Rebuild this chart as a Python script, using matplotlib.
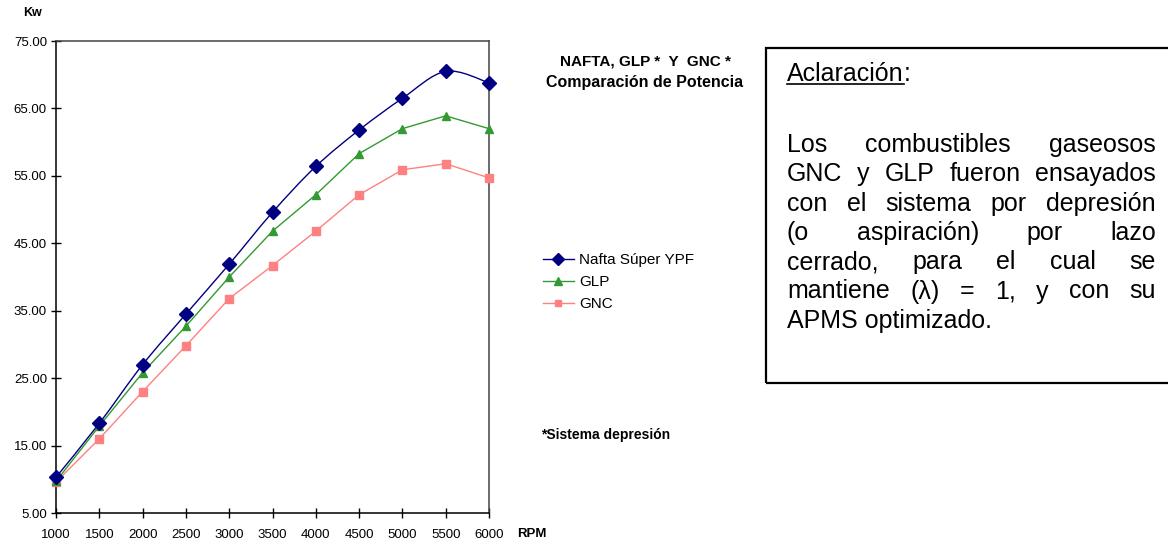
import matplotlib
matplotlib.use("Agg")
import matplotlib.pyplot as plt
from matplotlib.path import Path
from matplotlib.patches import PathPatch, Rectangle
from matplotlib.lines import Line2D
import numpy as np

plt.rcParams['font.family'] = ['Liberation Sans', 'DejaVu Sans']

rpm = [1000, 1500, 2000, 2500, 3000, 3500, 4000, 4500, 5000, 5500, 6000]
nafta = [10.3, 18.3, 27.0, 34.5, 41.9, 49.6, 56.4, 61.8, 66.5, 70.5, 68.8]
glp = [9.7, 17.9, 25.8, 32.7, 40.0, 46.8, 52.2, 58.3, 62.0, 63.9, 62.0]
gnc = [9.6, 16.0, 23.0, 29.8, 36.8, 41.7, 46.8, 52.2, 55.9, 56.8, 54.7]
series_names = ['Nafta Súper YPF', 'GLP', 'GNC']
yticks = [5, 15, 25, 35, 45, 55, 65, 75]

W, H = 1168, 544
fig = plt.figure(figsize=(W / 100, H / 100), dpi=100)


def fx(x):
    return x / W


def fy(y):
    return 1 - y / H


ax = fig.add_axes([fx(56), fy(513), fx(489) - fx(56), fy(41) - fy(513)])
ax.set_xlim(1000, 6000)
ax.set_ylim(5, 75)
ax.set_xticks(rpm)
ax.set_xticklabels([str(v) for v in rpm])
ax.set_yticks(yticks)
ax.set_yticklabels([f"{v:.2f}" for v in yticks])
ax.tick_params(axis='both', direction='inout', length=7, width=1, labelsize=9.5,
               colors='black', pad=3)
ax.tick_params(axis='x', pad=8)
for s in ax.spines.values():
    s.set_color('#000000')
    s.set_linewidth(1.1)
for s in ['top', 'right']:
    ax.spines[s].set_color('#444444')


def smooth_path(xs, ys):
    xs = np.asarray(xs, float)
    ys = np.asarray(ys, float)
    pts = np.column_stack([xs, ys])
    verts = [pts[0]]
    codes = [Path.MOVETO]
    n = len(pts)
    for i in range(n - 1):
        p0 = pts[i - 1] if i > 0 else pts[i]
        p1 = pts[i]
        p2 = pts[i + 1]
        p3 = pts[i + 2] if i + 2 < n else pts[i + 1]
        c1 = p1 + (p2 - p0) / 6.0
        c2 = p2 - (p3 - p1) / 6.0
        verts += [c1, c2, p2]
        codes += [Path.CURVE4] * 3
    return Path(verts, codes)


c_nafta = '#000080'
c_glp = '#339933'
c_gnc = '#FF8080'

ax.add_patch(PathPatch(smooth_path(rpm, nafta), fill=False, edgecolor=c_nafta, lw=1.0, zorder=2))
ax.plot(rpm, glp, color=c_glp, lw=1.0, zorder=2)
ax.plot(rpm, gnc, color=c_gnc, lw=1.0, zorder=2)
ax.plot(rpm, gnc, ls='none', marker='s', ms=5.5, color=c_gnc, zorder=3, clip_on=False)
ax.plot(rpm, glp, ls='none', marker='^', ms=6, color=c_glp, zorder=4, clip_on=False)
ax.plot(rpm, nafta, ls='none', marker='D', ms=7, color=c_nafta, zorder=5, clip_on=False)

handles = [
    Line2D([], [], color=c_nafta, lw=1, marker='D', ms=6),
    Line2D([], [], color=c_glp, lw=1, marker='^', ms=5.5),
    Line2D([], [], color=c_gnc, lw=1, marker='s', ms=5),
]
fig.legend(handles, series_names, loc='upper left',
           bbox_to_anchor=(fx(543), fy(253)), frameon=False, fontsize=11,
           handlelength=2.0, handletextpad=0.35, labelspacing=0.52,
           borderaxespad=0, borderpad=0)

fig.text(fx(33), fy(13), 'Kw', ha='center', va='center', fontsize=9, fontweight='bold')
fig.text(fx(517), fy(534), 'RPM', ha='left', va='center', fontsize=9.5, fontweight='bold')
fig.text(fx(645), fy(61), 'NAFTA, GLP *  Y  GNC *', ha='center', va='center',
         fontsize=11, fontweight='bold')
fig.text(fx(645), fy(82), 'Comparación de Potencia', ha='center', va='center',
         fontsize=11.5, fontweight='bold')
fig.text(fx(541), fy(435), '*Sistema depresión', ha='left', va='center',
         fontsize=10, fontweight='bold')

# Note box
fig.patches.append(Rectangle((fx(766), fy(383)), fx(1190) - fx(766), fy(48) - fy(383),
                             transform=fig.transFigure, fill=False, edgecolor='black',
                             lw=1.6, clip_on=True))

fs_box = 18
renderer = fig.canvas.get_renderer()
left_px, right_px = 787, 1156
yb_head = 81
t = fig.text(fx(left_px), fy(yb_head), 'Aclaración', ha='left', va='baseline', fontsize=fs_box)
bb = t.get_window_extent(renderer)
fig.text(fx(left_px) + bb.width / W, fy(yb_head), ':', ha='left', va='baseline', fontsize=fs_box)
fig.add_artist(Line2D([fx(left_px), fx(left_px) + bb.width / W], [fy(yb_head + 3), fy(yb_head + 3)],
                      transform=fig.transFigure, color='black', lw=1.2))

lines = [
    'Los combustibles gaseosos',
    'GNC y GLP fueron ensayados',
    'con el sistema por depresión',
    '(o aspiración) por lazo',
    'cerrado, para el cual se',
    'mantiene (λ) = 1, y con su',
    'APMS optimizado.',
]
y0 = 152
dy = 29.3
for i, ln in enumerate(lines):
    yb = y0 + i * dy
    words = ln.split(' ')
    if i == len(lines) - 1:
        fig.text(fx(left_px), fy(yb), ln, ha='left', va='baseline', fontsize=fs_box)
        continue
    widths = []
    for w in words:
        tt = fig.text(0, 0, w, fontsize=fs_box)
        widths.append(tt.get_window_extent(renderer).width)
        tt.remove()
    gap = (right_px - left_px - sum(widths)) / (len(words) - 1)
    x = left_px
    for w, wd in zip(words, widths):
        fig.text(fx(x), fy(yb), w, ha='left', va='baseline', fontsize=fs_box)
        x += wd + gap

fig.savefig('out.png', dpi=100)
